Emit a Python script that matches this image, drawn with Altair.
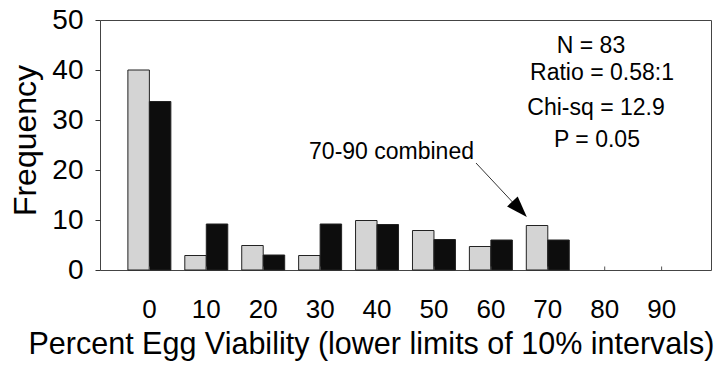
import altair as alt
import pandas as pd

categories = ["0", "10", "20", "30", "40", "50", "60", "70", "80", "90"]
series_names = ["Group A", "Group B"]
light_values = [40, 2.9, 4.9, 2.9, 9.9, 7.9, 4.7, 8.9, 0, 0]
dark_values = [33.7, 9.2, 3.0, 9.2, 9.1, 6.1, 6.0, 6.0, 0, 0]

stats_lines = ["N = 83", "Ratio = 0.58:1", "Chi-sq = 12.9", "P = 0.05"]
arrow_label = "70-90 combined"

FONT = "Liberation Sans"

rows = []
for c, a, b in zip(categories, light_values, dark_values):
    rows.append({"bin": c, "series": series_names[0], "freq": a})
    rows.append({"bin": c, "series": series_names[1], "freq": b})
df = pd.DataFrame(rows)
ticks_df = pd.DataFrame({"bin": categories})

xscale = alt.Scale(domain=categories, paddingInner=0.245, paddingOuter=0.49)
yscale = alt.Scale(domain=[0, 50], nice=False)

bars = alt.Chart(df).transform_filter("datum.freq > 0").mark_bar(
    stroke="#222", strokeWidth=1
).encode(
    x=alt.X("bin:N", scale=xscale, sort=categories,
            axis=alt.Axis(title="Percent Egg Viability (lower limits of 10% intervals)",
                          labelAngle=0, ticks=False, tickSize=0, domain=False,
                          labelFont=FONT, labelFontSize=26, labelColor="#000",
                          labelPadding=47, labelBaseline="alphabetic",
                          titleFont=FONT, titleFontSize=30.5, titleFontWeight="normal",
                          titleColor="#000", titleX=271, titleY=83,
                          titleAlign="center", titleBaseline="alphabetic")),
    xOffset=alt.XOffset("series:N", sort=series_names,
                        scale=alt.Scale(paddingInner=0, paddingOuter=0)),
    y=alt.Y("freq:Q", scale=yscale,
            axis=alt.Axis(title="Frequency", values=[0, 10, 20, 30, 40, 50],
                          grid=False, domain=False, tickSize=5, tickColor="#333",
                          labelFont=FONT, labelFontSize=28, labelColor="#000",
                          labelPadding=12,
                          titleFont=FONT, titleFontSize=32, titleFontWeight="normal",
                          titleColor="#000", titleAngle=-90, titleX=-65, titleY=120,
                          titleAlign="center", titleBaseline="alphabetic")),
    color=alt.Color("series:N", sort=series_names,
                    scale=alt.Scale(domain=series_names, range=["#d4d4d4", "#0d0d0d"]),
                    legend=None),
)

xticks = alt.Chart(ticks_df).mark_rule(color="#555", strokeWidth=1).encode(
    x=alt.X("bin:N", scale=xscale, sort=categories),
    y=alt.datum(0),
    y2=alt.datum(0.7),
)

stats_df = pd.DataFrame({
    "t": stats_lines,
    "px": [491, 502, 496, 497],
    "py": [33, 60, 95, 127],
})
stats = alt.Chart(stats_df).mark_text(
    font=FONT, fontSize=23, color="#000", align="center", baseline="alphabetic"
).encode(
    text="t:N",
    x=alt.X("px:Q", scale=None),
    y=alt.Y("py:Q", scale=None),
)

label = alt.Chart(pd.DataFrame({"t": [arrow_label]})).mark_text(
    font=FONT, fontSize=23, color="#000", align="right", baseline="alphabetic"
).encode(text="t:N", x=alt.value(374), y=alt.value(139))

arrow_line = alt.Chart(pd.DataFrame({"a": [0]})).mark_rule(
    color="#333", strokeWidth=1
).encode(x=alt.value(376), y=alt.value(143), x2=alt.value(419), y2=alt.value(189))

arrow_head = alt.Chart(pd.DataFrame({"a": [0]})).mark_point(
    shape="M0,-1L0.55,0.6L-0.55,0.6Z", filled=True, color="#000", opacity=1,
    size=700, angle=137
).encode(x=alt.value(417.8), y=alt.value(187.3))

chart = alt.layer(bars, xticks, stats, label, arrow_line, arrow_head).properties(
    width=611, height=250,
    autosize=alt.AutoSizeParams(type="none"),
    padding={"left": 100, "top": 20, "right": 12, "bottom": 95},
    background="white",
).configure_view(stroke="#444", strokeWidth=1)

chart.save("out.html", embed_options={"renderer": "svg", "actions": False})
